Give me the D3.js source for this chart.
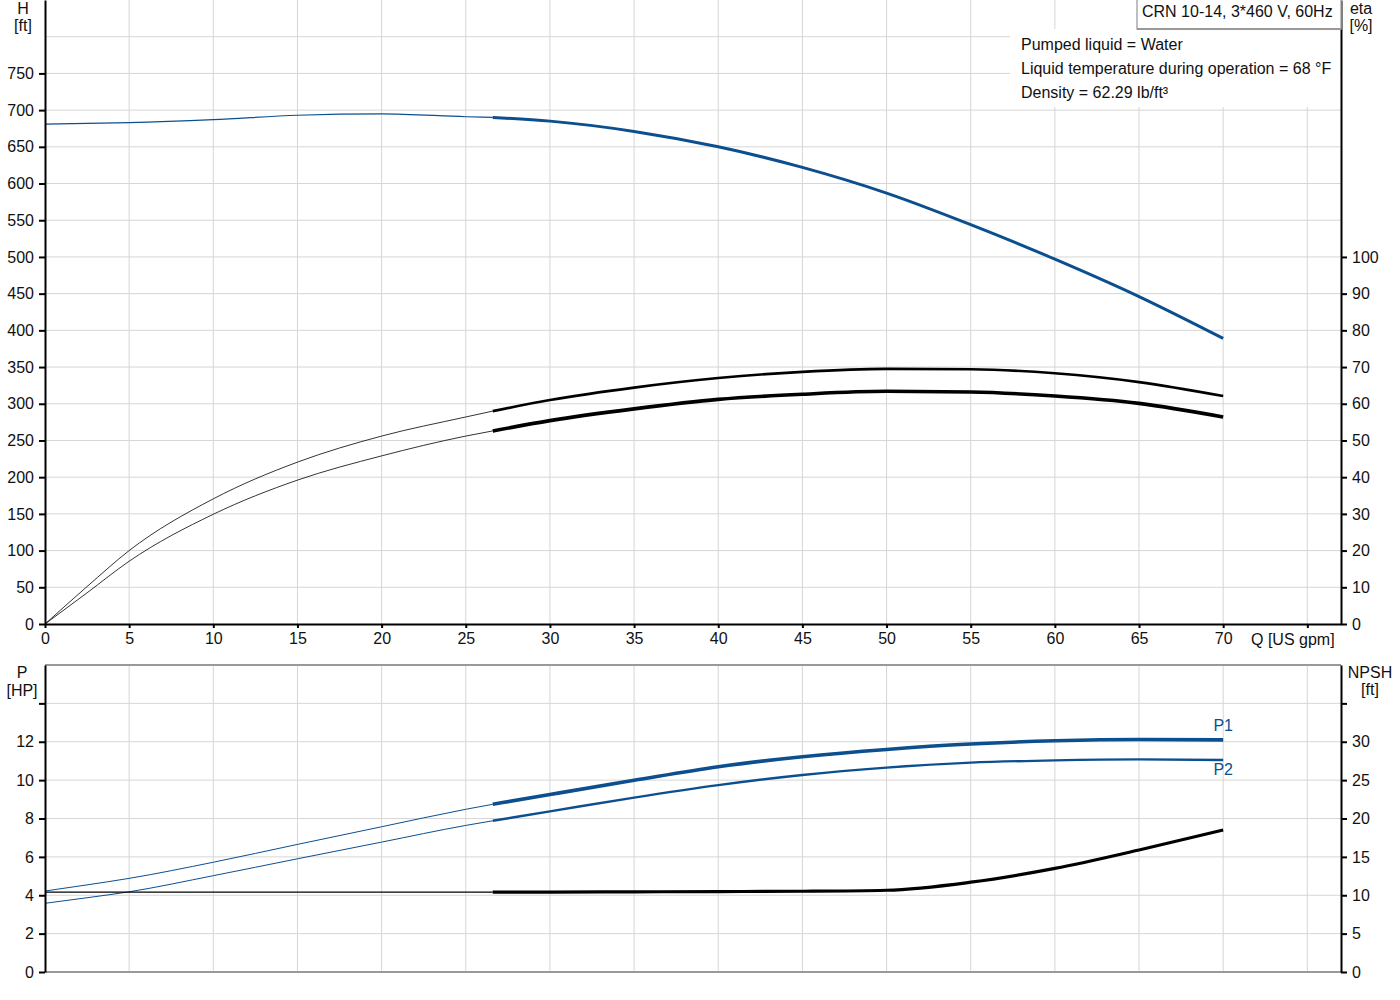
<!DOCTYPE html>
<html>
<head>
<meta charset="utf-8">
<script src="https://cdnjs.cloudflare.com/ajax/libs/d3/7.8.5/d3.min.js"></script>
<style>
  body { margin: 0; background: #fff; }
  #chart { width: 1400px; height: 1000px; }
  text { font-family: "Liberation Sans", Arial, sans-serif; font-size: 16px; fill: #111; }
</style>
</head>
<body>
<div id="chart"></div>
<script>
/*
  DATA
*/
const flow = [0, 2.5, 5, 10, 15, 20, 25, 26.6, 30, 35, 40, 45, 50, 55, 60, 65, 70];
const head = [681, 682, 683, 687, 693, 695, 691, 690, 685, 671, 650, 622, 587, 544, 497, 446, 389];
const etaPump = [0, 10.2, 20.0, 34.1, 44.1, 51.2, 56.4, 58.0, 61.0, 64.4, 67.0, 68.7, 69.5, 69.4, 68.3, 65.9, 62.1];
const etaTotal = [0, 8.5, 17.1, 29.9, 39.2, 45.8, 51.2, 52.6, 55.4, 58.6, 61.2, 62.6, 63.4, 63.2, 62.1, 60.1, 56.4];
const powerP1 = [4.22, 4.54, 4.88, 5.72, 6.65, 7.57, 8.48, 8.74, 9.25, 9.99, 10.7, 11.22, 11.6, 11.88, 12.05, 12.12, 12.1];
const powerP2 = [3.58, 3.87, 4.18, 5.02, 5.9, 6.77, 7.64, 7.88, 8.37, 9.09, 9.74, 10.27, 10.65, 10.91, 11.03, 11.08, 11.05];
const npsh = [10.4, 10.4, 10.4, 10.4, 10.4, 10.4, 10.4, 10.4, 10.42, 10.45, 10.48, 10.52, 10.65, 11.7, 13.5, 15.9, 18.5];
const splitFlow = 26.6;

const xTicks = d3.range(0, 76, 5);
const xLabels = d3.range(0, 71, 5);
const headTicks = d3.range(0, 751, 50);
const etaTicks = d3.range(0, 101, 10);
const powerTicks = d3.range(0, 15, 2);
const npshTicks = d3.range(0, 36, 5);

const title = "CRN 10-14, 3*460 V, 60Hz";
const infoLines = ["Pumped liquid = Water", "Liquid temperature during operation = 68 °F", "Density = 62.29 lb/ft³"];

/*
  CANVAS AND SCALES
*/
const width = 1400, height = 1000;
const blue = "#0c4f8f";
const grid = "#d6d6d6";

const canvas = d3.select("#chart").append("svg")
    .attr("width", width)
    .attr("height", height);

const upper = {y0: 0, y1: 624};
const lower = {y0: 665, y1: 972};

const xScale = d3.scaleLinear().domain([0, 77]).range([45, 1341]);
const hScale = d3.scaleLinear().domain([0, 850]).range([upper.y1, upper.y0]);
const etaScale = d3.scaleLinear().domain([0, 170]).range([upper.y1, upper.y0]);
const pScale = d3.scaleLinear().domain([0, 16]).range([lower.y1, lower.y0]);
const npshScale = d3.scaleLinear().domain([0, 40]).range([lower.y1, lower.y0]);

/*
  GRIDLINES
*/
function drawGrid(yScale, yVals, y0, y1) {
    const g = canvas.append("g").attr("stroke", grid).attr("stroke-width", 1);
    g.selectAll(".v").data(xTicks.slice(1)).enter().append("line")
        .attr("x1", d => xScale(d)).attr("x2", d => xScale(d))
        .attr("y1", y0).attr("y2", y1);
    g.selectAll(".h").data(yVals).enter().append("line")
        .attr("x1", xScale(0)).attr("x2", xScale(77))
        .attr("y1", d => yScale(d)).attr("y2", d => yScale(d));
}
drawGrid(hScale, d3.range(50, 801, 50), upper.y0, upper.y1);
drawGrid(pScale, d3.range(2, 15, 2), lower.y0, lower.y1);

// frame lines of the lower chart
canvas.append("line").attr("x1", xScale(0)).attr("x2", xScale(77))
    .attr("y1", lower.y0).attr("y2", lower.y0).attr("stroke", "#999").attr("stroke-width", 2);
canvas.append("line").attr("x1", xScale(0)).attr("x2", xScale(77))
    .attr("y1", lower.y1).attr("y2", lower.y1).attr("stroke", "#999").attr("stroke-width", 2);

/*
  INFO TEXT BACKGROUND
*/
canvas.append("rect").attr("x", 1010).attr("y", 29).attr("width", 330).attr("height", 78).attr("fill", "#fff");

/*
  CURVES (thin below splitFlow, thick above)
*/
function drawCurve(values, yScale, color, thin, thick) {
    const pts = flow.map((q, i) => [q, values[i]]);
    const line = d3.line()
        .x(d => xScale(d[0]))
        .y(d => yScale(d[1]))
        .curve(d3.curveMonotoneX);
    canvas.append("path").attr("d", line(pts.filter(d => d[0] <= splitFlow)))
        .attr("fill", "none").attr("stroke", color).attr("stroke-width", thin);
    canvas.append("path").attr("d", line(pts.filter(d => d[0] >= splitFlow)))
        .attr("fill", "none").attr("stroke", color).attr("stroke-width", thick)
        .attr("stroke-linecap", "butt");
}
drawCurve(head, hScale, blue, 1.2, 3);
drawCurve(etaPump, etaScale, "#000", 0.8, 2.6);
drawCurve(etaTotal, etaScale, "#000", 0.8, 3.6);
drawCurve(powerP1, pScale, blue, 1, 3.6);
drawCurve(powerP2, pScale, blue, 1, 2.4);
drawCurve(npsh, npshScale, "#000", 1.3, 3.2);

canvas.append("text").attr("x", xScale(70)).attr("y", pScale(powerP1[powerP1.length - 1]) - 9)
    .attr("text-anchor", "middle").style("fill", blue).text("P1");
canvas.append("text").attr("x", xScale(70)).attr("y", pScale(powerP2[powerP2.length - 1]) + 15)
    .attr("text-anchor", "middle").style("fill", blue).text("P2");

/*
  AXES
*/
function styleAxis(g) {
    g.selectAll("path").attr("stroke", "#000").attr("stroke-width", 2);
    g.selectAll("line").attr("stroke", "#000").attr("stroke-width", 2);
    g.selectAll("text").style("font-size", "16px").style("font-family", "Liberation Sans, Arial, sans-serif").attr("fill", "#111");
}

// upper chart
canvas.append("g").attr("transform", `translate(${xScale(0)},0)`)
    .call(d3.axisLeft(hScale).tickValues(headTicks).tickSize(6).tickSizeOuter(0).tickPadding(5))
    .call(styleAxis);
canvas.append("g").attr("transform", `translate(${xScale(77)},0)`)
    .call(d3.axisRight(etaScale).tickValues(etaTicks).tickSize(6).tickSizeOuter(0).tickPadding(5))
    .call(styleAxis);
canvas.append("g").attr("transform", `translate(0,${upper.y1})`)
    .call(d3.axisBottom(xScale).tickValues(xTicks).tickSize(4).tickSizeOuter(0).tickPadding(5)
        .tickFormat(d => xLabels.includes(d) ? d : ""))
    .call(styleAxis);

// lower chart
canvas.append("g").attr("transform", `translate(${xScale(0)},0)`)
    .call(d3.axisLeft(pScale).tickValues(powerTicks).tickSize(6).tickSizeOuter(0).tickPadding(5)
        .tickFormat(d => d <= 12 ? d : ""))
    .call(styleAxis);
canvas.append("g").attr("transform", `translate(${xScale(77)},0)`)
    .call(d3.axisRight(npshScale).tickValues(npshTicks).tickSize(6).tickSizeOuter(0).tickPadding(5)
        .tickFormat(d => d <= 30 ? d : ""))
    .call(styleAxis);

/*
  AXIS TITLES
*/
function unitLabel(x, y1, y2, a, b) {
    canvas.append("text").attr("x", x).attr("y", y1).attr("text-anchor", "middle").text(a);
    canvas.append("text").attr("x", x).attr("y", y2).attr("text-anchor", "middle").text(b);
}
unitLabel(23, 13.5, 31, "H", "[ft]");
unitLabel(1361, 13.5, 31, "eta", "[%]");
unitLabel(22, 678, 696, "P", "[HP]");
unitLabel(1370, 678, 695, "NPSH", "[ft]");

canvas.append("text").attr("x", 1251).attr("y", 645).text("Q [US gpm]");

/*
  TITLE BOX AND INFO
*/
canvas.append("rect").attr("x", 1137).attr("y", -2).attr("width", 204).attr("height", 31)
    .attr("fill", "#fff").attr("stroke", "#aaa").attr("stroke-width", 1.5);
canvas.append("line").attr("x1", 1137).attr("x2", 1341).attr("y1", 29).attr("y2", 29)
    .attr("stroke", "#999").attr("stroke-width", 2);
canvas.append("text").attr("x", 1142).attr("y", 17).text(title);

canvas.selectAll(".info").data(infoLines).enter().append("text")
    .attr("x", 1021).attr("y", (d, i) => 50 + i * 24).text(d => d);
</script>
</body>
</html>
